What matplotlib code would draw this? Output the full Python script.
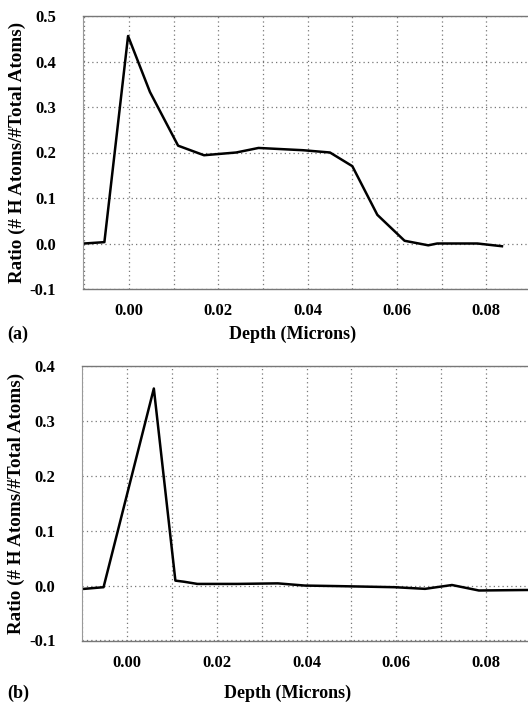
import matplotlib
matplotlib.use("Agg")
import matplotlib.pyplot as plt
import numpy as np

# Panel (a) data
depth_a = [-0.0100, -0.0055, -0.0002, 0.0047, 0.0110, 0.0168, 0.0240, 0.0290,
           0.0390, 0.0450, 0.0500, 0.0556, 0.0617, 0.0670, 0.0690, 0.0780, 0.0835]
ratio_a = [0.000, 0.003, 0.456, 0.333, 0.215, 0.194, 0.200, 0.210,
           0.205, 0.200, 0.170, 0.063, 0.006, -0.004, 0.000, 0.000, -0.006]

# Panel (b) data
depth_b = [-0.0095, -0.0052, 0.0060, 0.0108, 0.0127, 0.0157, 0.0246, 0.0336,
           0.0396, 0.0470, 0.0597, 0.0664, 0.0724, 0.0784, 0.0900]
ratio_b = [-0.006, -0.003, 0.359, 0.009, 0.007, 0.003, 0.003, 0.004,
           0.000, -0.001, -0.003, -0.006, 0.001, -0.009, -0.008]

xticks = [0.00, 0.02, 0.04, 0.06, 0.08]
xtick_labels = ["0.00", "0.02", "0.04", "0.06", "0.08"]
yticks_a = [-0.1, 0.0, 0.1, 0.2, 0.3, 0.4, 0.5]
yticks_b = [-0.1, 0.0, 0.1, 0.2, 0.3, 0.4]
ylabel = "Ratio (# H Atoms/#Total Atoms)"
xlabel = "Depth (Microns)"

plt.rcParams['font.family'] = ['Liberation Serif', 'DejaVu Serif']
plt.rcParams['font.weight'] = 'bold'

fig = plt.figure(figsize=(5.28, 7.02), dpi=100)
W, H = 528, 702

def make_axes(top_px, bottom_px, left_px):
    return fig.add_axes([left_px / W, 1 - bottom_px / H, (531 - left_px) / W,
                         (bottom_px - top_px) / H])

ax_a = make_axes(16, 289, 82.5)
ax_b = make_axes(366, 641, 82)

def style(ax, x, y, yticks, ylim, xlim, label, label_y_px, xlabel_x_px):
    ax.plot(x, y, color='black', lw=1.8, solid_joinstyle='round')
    ax.set_xlim(*xlim)
    ax.set_ylim(*ylim)
    ax.set_xticks(xticks)
    ax.set_xticklabels(xtick_labels)
    ax.set_xticks(np.arange(-0.01, 0.0901, 0.01), minor=True)
    ax.set_yticks(yticks)
    ax.set_yticklabels([f"{v:.1f}" for v in yticks])
    ax.tick_params(which='both', length=0, labelsize=12)
    ax.tick_params(axis='y', pad=19)
    ax.tick_params(axis='x', pad=10)
    ax.grid(True, which='both', color='#777777', linestyle=(0, (1, 2.5)), lw=0.9)
    for s in ['top', 'bottom']:
        ax.spines[s].set_color('#777777')
        ax.spines[s].set_linewidth(1.0)
    ax.spines['left'].set_color('#999999')
    ax.spines['left'].set_linewidth(0.8)
    ax.spines['right'].set_visible(False)
    ax.set_ylabel(ylabel, fontsize=13.7, fontweight='bold')
    ax.yaxis.set_label_coords(-(82 - 25) / (531 - 82), 0.5)
    fig.text(xlabel_x_px / W, 1 - label_y_px / H, xlabel, ha='center', va='center',
             fontsize=13, fontweight='bold')
    fig.text(7 / W, 1 - label_y_px / H, label, ha='left', va='center',
             fontsize=13, fontweight='bold')

style(ax_a, depth_a, ratio_a, yticks_a, (-0.1, 0.5), (-0.0104, 0.0897), "(a)", 334, 293)
style(ax_b, depth_b, ratio_b, yticks_b, (-0.101, 0.4), (-0.0093, 0.0900), "(b)", 693, 288)

fig.savefig("out.png", dpi=100)
